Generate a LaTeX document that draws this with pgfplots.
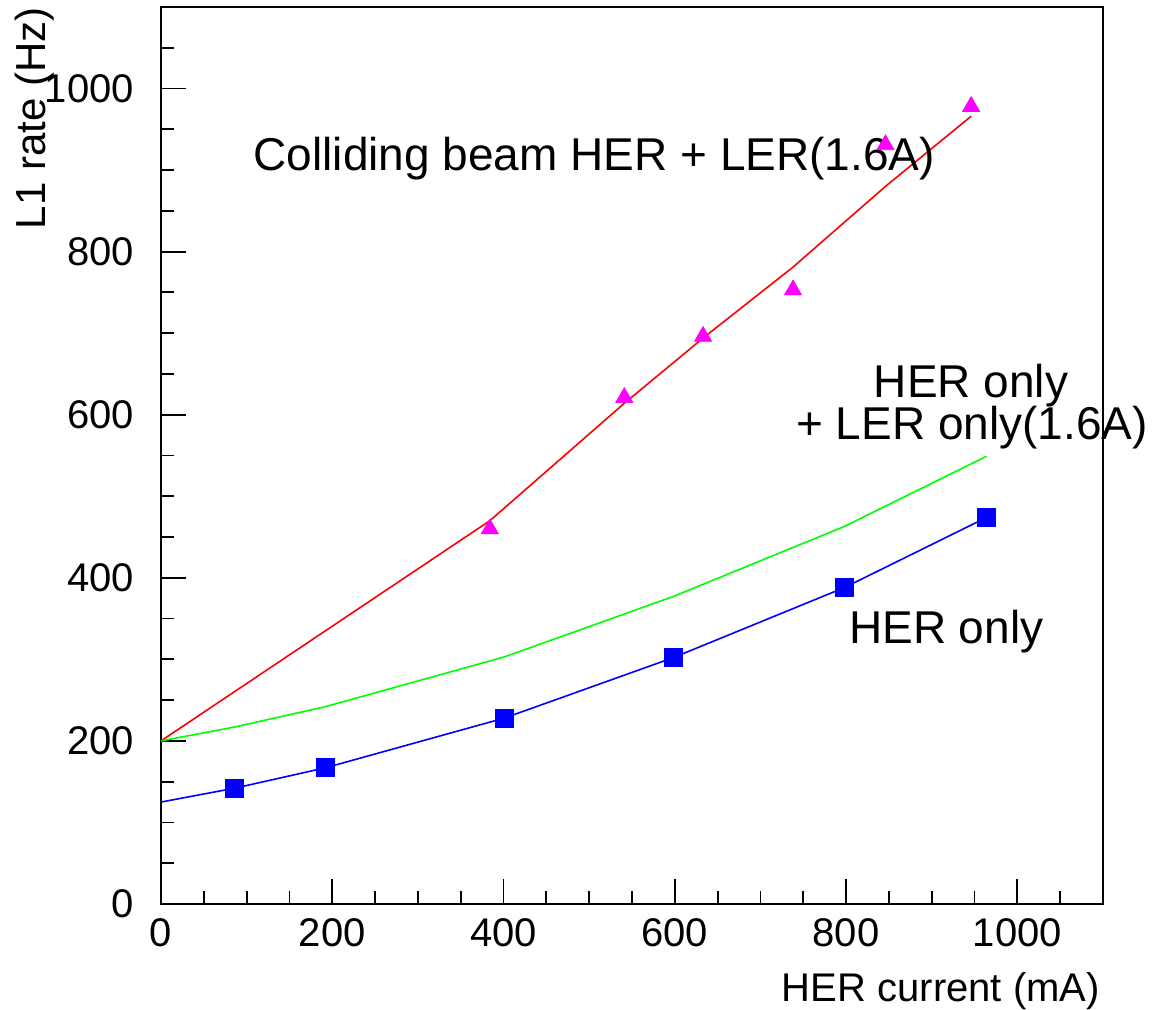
\documentclass[border=0pt]{standalone}
\usepackage{fontspec}
\setmainfont{Liberation Sans}
\usepackage{pgfplots}
\pgfplotsset{compat=1.18}
\definecolor{rootgreen}{rgb}{0,1,0}
\definecolor{rootmagenta}{rgb}{1,0,1}
\definecolor{rootred}{rgb}{1,0,0}
\definecolor{rootblue}{rgb}{0,0,1}
\begin{document}
\begin{tikzpicture}
\path[use as bounding box] (0,0) rectangle (576pt,505pt);
\begin{axis}[
  at={(80.5pt,53pt)}, anchor=south west,
  scale only axis, width=471pt, height=448.5pt,
  xmin=0, xmax=1100, ymin=0, ymax=1100,
  xtick={0,200,...,1000}, ytick={0,200,...,1000},
  minor xtick={0,50,...,1050}, minor ytick={0,50,...,1050},
  tick pos=left, tick align=inside,
  major tick length=12.5pt, minor tick length=6.5pt,
  every tick/.style={black, line width=0.9pt},
  axis line style={line width=1pt},
  ticklabel style={font=\fontsize{20}{24}\selectfont},
  yticklabel shift=10pt,
  xticklabel shift=4pt,
  /pgf/number format/assume math mode=true,
  /pgf/number format/1000 sep={},
  clip=false,
]
\addplot[rootred, line width=0.8pt, mark=none] coordinates {
(0,200) (384,470) (541,614) (633,694) (738,781) (846,880) (946,966)};
\addplot[only marks, mark=triangle*, mark size=4.9pt, color=rootmagenta] coordinates {
(384,460) (541,621) (633,696) (738,753) (846,931) (946,978)};
\addplot[rootgreen, line width=0.8pt, mark=none] coordinates {
(0,200) (86,217) (192,242) (401,303) (598,377) (798,463) (964,549)};
\addplot[rootblue, line width=0.8pt, mark=none] coordinates {
(0,125) (86,142) (192,167) (401,228) (598,302) (798,388) (964,474)};
\addplot[only marks, mark=square*, mark size=4.5pt, color=rootblue] coordinates {
(86,142) (192,167) (401,228) (598,302) (798,388) (964,474)};
\node[anchor=base, font=\fontsize{23}{27}\selectfont, inner sep=0pt] at (axis cs:506,899) {Colliding beam HER + LER(1.6A)};
\node[anchor=base, font=\fontsize{23}{27}\selectfont, inner sep=0pt] at (axis cs:946,621) {HER only};
\node[anchor=base, font=\fontsize{23}{27}\selectfont, inner sep=0pt] at (axis cs:947,569) {+ LER only(1.6A)};
\node[anchor=base, font=\fontsize{23}{27}\selectfont, inner sep=0pt] at (axis cs:917,320) {HER only};
\node[anchor=base east, font=\fontsize{20}{24}\selectfont, inner sep=0pt] at (axis description cs:0.997,-0.109) {HER current (mA)};
\node[anchor=base east, rotate=90, font=\fontsize{21}{25}\selectfont, inner sep=0pt] at (axis description cs:-0.123,1.0) {L1 rate (Hz)};
\end{axis}
\end{tikzpicture}
\end{document}
